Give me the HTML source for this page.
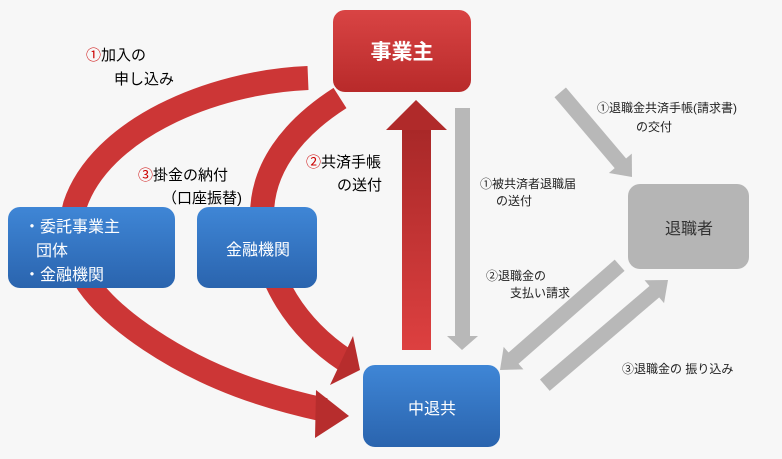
<!DOCTYPE html>
<html><head><meta charset="utf-8"><style>
body{margin:0;background:#f7f7f7;}
svg{display:block;font-family:"Liberation Sans","Noto Sans CJK JP",sans-serif;}
</style></head><body>
<svg width="782" height="459" viewBox="0 0 782 459" xmlns="http://www.w3.org/2000/svg">
<defs>
<linearGradient id="red" x1="0" y1="0" x2="0" y2="1"><stop offset="0" stop-color="#d94444"/><stop offset="1" stop-color="#b82a2a"/></linearGradient>
<linearGradient id="blue" x1="0" y1="0" x2="0" y2="1"><stop offset="0" stop-color="#3f86d6"/><stop offset="1" stop-color="#2a64ae"/></linearGradient>
<linearGradient id="redv" x1="0" y1="0" x2="0" y2="1"><stop offset="0" stop-color="#a82828"/><stop offset="1" stop-color="#dd4040"/></linearGradient>
</defs>
<rect width="782" height="459" fill="#f7f7f7"/>
<!-- arc1 -->
<path d="M308 78 C210 82,100 130,75 205 C60 260,90 300,150 340 C210 380,270 398,325 410" fill="none" stroke="#cc3636" stroke-width="24"/>
<polygon points="316,390 349,416 315,438" fill="#b72d2d"/>
<!-- arc2 -->
<path d="M340 98 C290 130,262 170,262 215 C262 280,300 330,345 360" fill="none" stroke="#c93434" stroke-width="24"/>
<polygon points="353,336 360,370 330,385" fill="#b72d2d"/>
<!-- red up arrow -->
<rect x="402" y="128" width="29" height="222" fill="url(#redv)"/>
<polygon points="416,100 447,130 386,130" fill="#b02a2a"/>
<!-- gray arrows -->
<g fill="#b8b8b8">
<rect x="455" y="108" width="15" height="230"/>
<polygon points="447,336 478,336 462,350"/>
<g transform="translate(632,177) rotate(49.7)"><rect x="-111" y="-7.5" width="95" height="15"/><polygon points="0,0 -18,-15 -18,15"/></g>
<g transform="translate(500,370) rotate(138.8)"><rect x="-159" y="-7.5" width="143" height="15"/><polygon points="0,0 -18,-15 -18,15"/></g>
<g transform="translate(668,280) rotate(-40.5)"><rect x="-162" y="-7.5" width="146" height="15"/><polygon points="0,0 -18,-15 -18,15"/></g>
</g>
<!-- boxes -->
<rect x="333" y="10" width="138" height="82" rx="12" fill="url(#red)"/>
<text x="402" y="59" font-size="21" font-weight="bold" fill="#fff" text-anchor="middle">事業主</text>
<rect x="8" y="207" width="167" height="81" rx="12" fill="url(#blue)"/>
<text font-size="16" fill="#fff"><tspan x="24" y="232">・委託事業主</tspan><tspan x="36" y="256">団体</tspan><tspan x="24" y="280">・金融機関</tspan></text>
<rect x="197" y="207" width="120" height="81" rx="12" fill="url(#blue)"/>
<text x="258" y="255" font-size="16" fill="#fff" text-anchor="middle">金融機関</text>
<rect x="363" y="365" width="137" height="82" rx="12" fill="url(#blue)"/>
<text x="432" y="414" font-size="16" fill="#fff" text-anchor="middle">中退共</text>
<rect x="628" y="184" width="121" height="85" rx="12" fill="#b5b5b5"/>
<text x="689" y="234" font-size="16" fill="#333" text-anchor="middle">退職者</text>
<!-- labels -->
<g font-size="15" fill="#000">
<text x="86" y="60"><tspan fill="#c00">①</tspan>加入の</text>
<text x="114" y="84">申し込み</text>
<text x="138" y="180"><tspan fill="#c00">③</tspan>掛金の納付</text>
<text x="162" y="203">（口座振替)</text>
<text x="306" y="167"><tspan fill="#c00">②</tspan>共済手帳</text>
<text x="337" y="190">の送付</text>
</g>
<g font-size="12" fill="#222">
<text x="597" y="112">①退職金共済手帳(請求書)</text>
<text x="636" y="131">の交付</text>
<text x="480" y="188">①被共済者退職届</text>
<text x="496" y="205">の送付</text>
<text x="486" y="280">②退職金の</text>
<text x="510" y="297">支払い請求</text>
<text x="622" y="373">③退職金の 振り込み</text>
</g>
</svg>
</body></html>
